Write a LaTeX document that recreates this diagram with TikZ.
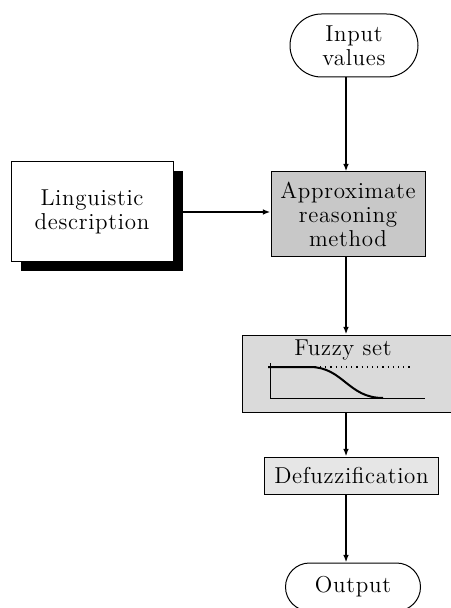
\documentclass[tikz,border=0pt]{standalone}
\usepackage{fontspec}
\setmainfont{Latin Modern Roman}[LetterSpace=3]
\usetikzlibrary{shapes.misc,arrows.meta,shadows}
\definecolor{fillA}{RGB}{200,200,200}
\definecolor{fillB}{RGB}{218,218,218}
\definecolor{fillC}{RGB}{230,230,230}
\begin{document}
\begin{tikzpicture}[x=0.5pt,y=-0.5pt,
  every node/.style={font=\fontsize{11.5}{12}\selectfont, align=center, inner sep=0pt},
  box/.style={draw, line width=0.5pt, rectangle},
  oval/.style={draw, line width=0.5pt, rounded rectangle},
  arr/.style={line width=0.75pt, -{Latex[length=3.8pt,width=2.8pt]}}]
\useasboundingbox (0,0) rectangle (450,608);

% flow column
\coordinate (col) at (346,0);

\node[oval, minimum width=64pt, minimum height=31.5pt] (input) at (354,45.5) {Input\\values};
\node[box, fill=fillA, minimum width=77pt, minimum height=42.5pt] (approx) at (348,214.5)
  {Approximate\\reasoning\\method};
\node[box, fill=white, minimum width=81pt, minimum height=50pt,
  drop shadow={shadow xshift=5pt, shadow yshift=-4.5pt, fill=black, opacity=1}] (ling) at (92,212)
  {Linguistic\\description};
\node[box, fill=fillB, minimum width=106.5pt, minimum height=38.5pt] (fuzzy) at (348.5,373.5) {};
\node (fuzzylabel) at (343,350) {Fuzzy set};
\node[box, fill=fillC, minimum width=87pt, minimum height=18.5pt] (defuzz) at (351.5,475.5) {Defuzzification};
\node[oval, minimum width=67.5pt, minimum height=24pt] (output) at (353,587) {Output};

% membership function sketch
\draw[line width=0.5pt] (270,363) -- (270,398) -- (425,398);
\draw[line width=0.6pt, dotted] (268,367) -- (410,367);
\draw[line width=1pt] (268,367) -- (310,367) .. controls (343,367) and (348,398) .. (383,398);

% connectors
\draw[arr] (input.south -| col) -- (approx.north -| col);
\draw[arr] (ling.east) -- (ling.east -| approx.west);
\draw[arr] (approx.south -| col) -- (fuzzy.north -| col);
\draw[arr] (fuzzy.south -| col) -- (defuzz.north -| col);
\draw[arr] (defuzz.south -| col) -- (output.north -| col);
\end{tikzpicture}
\end{document}
